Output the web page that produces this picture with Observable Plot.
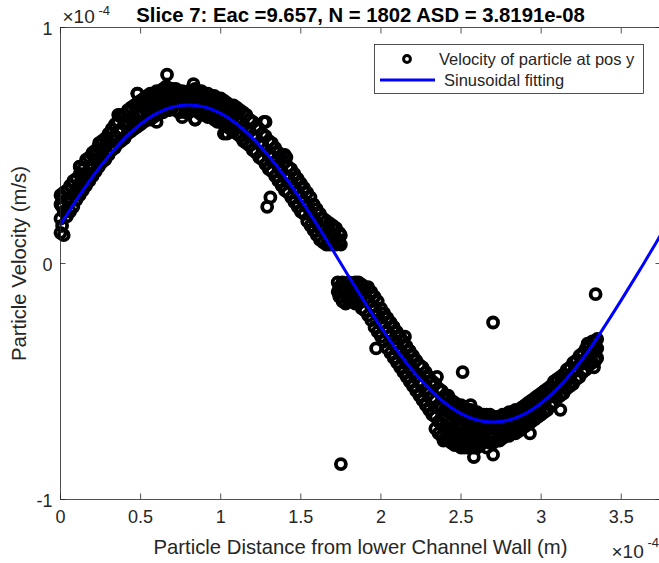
<!DOCTYPE html>
<html>
<head>
<meta charset="utf-8">
<script src="https://cdn.jsdelivr.net/npm/d3@7"></script>
<script src="https://cdn.jsdelivr.net/npm/@observablehq/plot@0.6"></script>
<style>
  html, body { margin: 0; padding: 0; background: #fff; overflow: hidden; }
  #chart svg { display: block; overflow: hidden; }
</style>
</head>
<body>
<div id="chart"></div>
<script>
// ---- Text ----
const titleText = "Slice 7: Eac =9.657, N = 1802 ASD = 3.8191e-08";
const xLabel = "Particle Distance from lower Channel Wall (m)";
const yLabel = "Particle Velocity (m/s)";
const legendLabels = ["Velocity of particle at pos y", "Sinusoidal fitting"];
const exponentBase = "\u00d710";
const exponentPower = "-4";

// ---- Ticks (values in units of 1e-4) ----
const xTicks = [0, 0.5, 1, 1.5, 2, 2.5, 3, 3.5];
const xTickLabels = ["0", "0.5", "1", "1.5", "2", "2.5", "3", "3.5"];
const yTicks = [-1, 0, 1];
const yTickLabels = ["-1", "0", "1"];

// ---- Sinusoidal fit (units of 1e-4) ----
const fitX = [0, 0.1, 0.2, 0.3, 0.4, 0.5, 0.6, 0.7, 0.8, 0.9, 1.0, 1.1, 1.2, 1.3, 1.4, 1.5, 1.6, 1.7, 1.8, 1.9,
              2.0, 2.1, 2.2, 2.3, 2.4, 2.5, 2.6, 2.7, 2.8, 2.9, 3.0, 3.1, 3.2, 3.3, 3.4, 3.5, 3.6, 3.7, 3.745];
const fitY = [0.165, 0.270, 0.368, 0.455, 0.530, 0.591, 0.636, 0.663, 0.672, 0.663, 0.636, 0.591, 0.530, 0.455, 0.368, 0.270, 0.165, 0.056, -0.056, -0.165,
              -0.270, -0.368, -0.455, -0.530, -0.591, -0.636, -0.663, -0.672, -0.663, -0.636, -0.591, -0.530, -0.455, -0.365, -0.262, -0.155, -0.045, 0.068, 0.120];

// ---- Particle velocities: rows of [x, y, y, ...] (units of 1e-4) ----
const upperBranch = [
  [0.00, 0.13, 0.19, 0.25, 0.29],
  [0.02, 0.12, 0.22, 0.30],
  [0.04, 0.20, 0.27, 0.31],
  [0.08, 0.24, 0.29, 0.35],
  [0.12, 0.29, 0.34, 0.38, 0.41],
  [0.16, 0.33, 0.37, 0.44],
  [0.20, 0.37, 0.42, 0.46, 0.47],
  [0.24, 0.41, 0.45, 0.51],
  [0.28, 0.44, 0.50, 0.53],
  [0.32, 0.48, 0.53, 0.57],
  [0.36, 0.51, 0.56, 0.60, 0.63],
  [0.40, 0.53, 0.59, 0.63],
  [0.44, 0.56, 0.61, 0.66],
  [0.48, 0.58, 0.63, 0.68, 0.72],
  [0.52, 0.60, 0.66, 0.70],
  [0.56, 0.61, 0.67, 0.72],
  [0.60, 0.60, 0.63, 0.69, 0.73],
  [0.64, 0.64, 0.70, 0.74],
  [0.68, 0.65, 0.71, 0.74],
  [0.72, 0.65, 0.69, 0.74],
  [0.76, 0.62, 0.68, 0.73],
  [0.80, 0.64, 0.69, 0.73],
  [0.84, 0.61, 0.65, 0.70, 0.74],
  [0.88, 0.63, 0.68, 0.73],
  [0.92, 0.62, 0.67, 0.72],
  [0.96, 0.61, 0.66, 0.71],
  [1.00, 0.60, 0.65, 0.70],
  [1.04, 0.55, 0.58, 0.63, 0.68],
  [1.08, 0.56, 0.62, 0.67],
  [1.12, 0.54, 0.60, 0.65],
  [1.16, 0.51, 0.57, 0.63],
  [1.20, 0.48, 0.54, 0.60],
  [1.24, 0.45, 0.51, 0.57],
  [1.28, 0.42, 0.48, 0.54, 0.60],
  [1.32, 0.39, 0.45, 0.51],
  [1.36, 0.35, 0.41, 0.47],
  [1.40, 0.31, 0.37, 0.43, 0.46],
  [1.44, 0.28, 0.34, 0.40],
  [1.48, 0.24, 0.30, 0.36],
  [1.52, 0.21, 0.26, 0.32],
  [1.56, 0.16, 0.22, 0.28],
  [1.60, 0.12, 0.17, 0.23],
  [1.64, 0.09, 0.14, 0.19],
  [1.68, 0.08, 0.12, 0.17],
  [1.72, 0.08, 0.11, 0.15],
  [1.75, 0.08, 0.12]
];
const upperBranchB = [
  [0.01, 0.16, 0.24, 0.28],
  [0.06, 0.22, 0.28, 0.33],
  [0.10, 0.27, 0.31, 0.36],
  [0.14, 0.31, 0.36, 0.40],
  [0.18, 0.35, 0.40, 0.45],
  [0.22, 0.39, 0.44, 0.48],
  [0.26, 0.43, 0.47, 0.52],
  [0.30, 0.46, 0.51, 0.55],
  [0.34, 0.49, 0.54, 0.59],
  [0.38, 0.52, 0.57, 0.62],
  [0.42, 0.55, 0.60, 0.65],
  [0.46, 0.57, 0.62, 0.67],
  [0.50, 0.59, 0.64, 0.69],
  [0.54, 0.61, 0.66, 0.71],
  [0.58, 0.62, 0.68, 0.72],
  [0.62, 0.64, 0.69, 0.73],
  [0.66, 0.65, 0.70, 0.75],
  [0.70, 0.66, 0.70, 0.74],
  [0.74, 0.64, 0.69, 0.73],
  [0.78, 0.64, 0.68, 0.72],
  [0.82, 0.65, 0.70, 0.73],
  [0.86, 0.64, 0.69, 0.73],
  [0.90, 0.63, 0.68, 0.72],
  [0.94, 0.62, 0.67, 0.71],
  [0.98, 0.60, 0.65, 0.70],
  [1.02, 0.59, 0.64, 0.69],
  [1.06, 0.57, 0.62, 0.67],
  [1.10, 0.55, 0.61, 0.66],
  [1.14, 0.52, 0.58, 0.64],
  [1.18, 0.50, 0.56, 0.61],
  [1.22, 0.47, 0.53, 0.58],
  [1.26, 0.44, 0.50, 0.55],
  [1.30, 0.40, 0.46, 0.52],
  [1.34, 0.37, 0.43, 0.49],
  [1.38, 0.33, 0.39, 0.45],
  [1.42, 0.30, 0.36, 0.41],
  [1.46, 0.26, 0.32, 0.38],
  [1.50, 0.22, 0.28, 0.34],
  [1.54, 0.18, 0.24, 0.30],
  [1.58, 0.14, 0.19, 0.25],
  [1.62, 0.10, 0.15, 0.21],
  [1.66, 0.08, 0.13, 0.18],
  [1.70, 0.08, 0.12, 0.16],
  [1.74, 0.09, 0.13]
];
const upperExtras = [
  [0.12, 0.41], [0.21, 0.47], [0.37, 0.63], [0.48, 0.72], [0.83, 0.76],
  [0.84, 0.61], [1.02, 0.55], [1.27, 0.60], [1.41, 0.45], [1.29, 0.24], [1.31, 0.28]
];
const lowerBranch = [
  [1.73, -0.08, -0.12],
  [1.76, -0.08, -0.12, -0.16],
  [1.80, -0.08, -0.12, -0.16],
  [1.84, -0.08, -0.12, -0.17],
  [1.88, -0.09, -0.14, -0.19],
  [1.92, -0.10, -0.16, -0.22],
  [1.96, -0.14, -0.20, -0.27],
  [2.00, -0.19, -0.25, -0.31],
  [2.04, -0.23, -0.29, -0.36],
  [2.08, -0.27, -0.34, -0.40],
  [2.12, -0.31, -0.38, -0.44],
  [2.16, -0.35, -0.42, -0.48],
  [2.20, -0.39, -0.46, -0.52],
  [2.24, -0.43, -0.50, -0.56],
  [2.28, -0.46, -0.53, -0.60],
  [2.32, -0.50, -0.57, -0.64],
  [2.36, -0.53, -0.60, -0.67, -0.72],
  [2.40, -0.56, -0.62, -0.69, -0.74],
  [2.44, -0.58, -0.64, -0.70, -0.76],
  [2.48, -0.60, -0.66, -0.72, -0.77],
  [2.52, -0.61, -0.67, -0.73, -0.78],
  [2.56, -0.62, -0.68, -0.74, -0.77],
  [2.60, -0.63, -0.69, -0.75, -0.78],
  [2.64, -0.64, -0.70, -0.75],
  [2.68, -0.65, -0.70, -0.76],
  [2.72, -0.65, -0.70, -0.75],
  [2.76, -0.64, -0.69, -0.74],
  [2.80, -0.63, -0.68, -0.73],
  [2.84, -0.62, -0.67, -0.72],
  [2.88, -0.61, -0.66, -0.70],
  [2.92, -0.59, -0.64, -0.68],
  [2.96, -0.57, -0.62, -0.66],
  [3.00, -0.55, -0.60, -0.64],
  [3.04, -0.53, -0.57, -0.62],
  [3.08, -0.50, -0.55, -0.59],
  [3.12, -0.48, -0.52, -0.56],
  [3.16, -0.45, -0.49, -0.53],
  [3.20, -0.42, -0.46, -0.51],
  [3.24, -0.39, -0.43, -0.48],
  [3.28, -0.36, -0.40, -0.45],
  [3.32, -0.33, -0.37, -0.42],
  [3.35, -0.32, -0.36, -0.40]
];
const lowerBranchB = [
  [1.74, -0.10, -0.14],
  [1.78, -0.09, -0.13, -0.17],
  [1.82, -0.09, -0.13, -0.16],
  [1.86, -0.08, -0.12, -0.17],
  [1.90, -0.10, -0.15, -0.20],
  [1.94, -0.12, -0.18, -0.24],
  [1.98, -0.16, -0.22, -0.29],
  [2.02, -0.21, -0.27, -0.33],
  [2.06, -0.25, -0.31, -0.38],
  [2.10, -0.29, -0.36, -0.42],
  [2.14, -0.33, -0.40, -0.46],
  [2.18, -0.37, -0.44, -0.50],
  [2.22, -0.41, -0.48, -0.54],
  [2.26, -0.44, -0.51, -0.58],
  [2.30, -0.48, -0.55, -0.62],
  [2.34, -0.51, -0.58, -0.65, -0.70],
  [2.38, -0.54, -0.61, -0.68, -0.73],
  [2.42, -0.57, -0.63, -0.70, -0.75],
  [2.46, -0.59, -0.65, -0.71, -0.77],
  [2.50, -0.60, -0.66, -0.72, -0.78],
  [2.54, -0.62, -0.68, -0.73, -0.78],
  [2.58, -0.63, -0.69, -0.74, -0.78],
  [2.62, -0.64, -0.69, -0.74, -0.77],
  [2.66, -0.64, -0.70, -0.75, -0.78],
  [2.70, -0.65, -0.70, -0.76],
  [2.74, -0.65, -0.70, -0.75],
  [2.78, -0.64, -0.68, -0.73],
  [2.82, -0.63, -0.67, -0.72],
  [2.86, -0.62, -0.66, -0.71],
  [2.90, -0.60, -0.65, -0.69],
  [2.94, -0.58, -0.63, -0.67],
  [2.98, -0.56, -0.61, -0.65],
  [3.02, -0.54, -0.58, -0.63],
  [3.06, -0.52, -0.56, -0.60],
  [3.10, -0.49, -0.53, -0.57],
  [3.14, -0.47, -0.51, -0.55],
  [3.18, -0.44, -0.48, -0.52],
  [3.22, -0.41, -0.45, -0.49],
  [3.26, -0.38, -0.42, -0.46],
  [3.30, -0.35, -0.39, -0.43],
  [3.34, -0.33, -0.37, -0.41]
];
const lowerExtras = [
  [2.08, -0.27], [2.15, -0.31], [1.97, -0.36], [2.35, -0.48], [2.42, -0.56],
  [2.39, -0.75], [2.58, -0.82], [2.70, -0.81], [2.68, -0.64], [2.93, -0.72],
  [3.12, -0.62], [3.33, -0.44], [3.31, -0.37], [3.29, -0.34], [2.56, -0.60]
];
const outliers = [[0.665, 0.80], [1.75, -0.85], [2.51, -0.46], [2.70, -0.25], [3.34, -0.13]];

// ---- Build tables ----
const fromRows = rows => rows.flatMap(([x, ...ys]) => ys.map(y => ({x, y})));
const fromPairs = pairs => pairs.map(([x, y]) => ({x, y}));
const particles = [
  ...fromRows(upperBranch), ...fromRows(upperBranchB), ...fromPairs(upperExtras),
  ...fromRows(lowerBranch), ...fromRows(lowerBranchB), ...fromPairs(lowerExtras),
  ...fromPairs(outliers)
];
const fit = fitX.map((x, i) => ({x, y: fitY[i]}));

const font = "'Liberation Sans', Arial, Helvetica, sans-serif";
const axisColor = "#262626";

const chart = Plot.plot({
  width: 659,
  height: 563,
  marginTop: 27,
  marginBottom: 64,
  marginLeft: 60,
  marginRight: -1,
  style: {fontFamily: font, background: "#fff", color: axisColor},
  x: {domain: [0, 3.745]},
  y: {domain: [-1, 1]},
  marks: [
    Plot.dot(particles, {x: "x", y: "y", r: 5, stroke: "#000", strokeWidth: 3.8, fill: "none"}),
    Plot.line(fit, {x: "x", y: "y", stroke: "#0000ff", strokeWidth: 3, curve: "catmull-rom"}),
    Plot.frame({stroke: axisColor, strokeWidth: 0.8}),
    // inward ticks
    Plot.axisX(xTicks, {anchor: "bottom", tickSize: -5.5, tickFormat: () => "", label: null, stroke: axisColor, strokeWidth: 0.8}),
    Plot.axisX(xTicks, {anchor: "top", tickSize: -5.5, tickFormat: () => "", label: null, stroke: axisColor, strokeWidth: 0.8}),
    Plot.axisY(yTicks, {anchor: "left", tickSize: -5.5, tickFormat: () => "", label: null, stroke: axisColor, strokeWidth: 0.8}),
    Plot.axisY(yTicks, {anchor: "right", tickSize: -5.5, tickFormat: () => "", label: null, stroke: axisColor, strokeWidth: 0.8}),
    // tick labels
    Plot.axisX(xTicks, {anchor: "bottom", tickSize: 0, tickPadding: 11, tickFormat: (d, i) => xTickLabels[i], label: null, fill: axisColor, fontSize: 18}),
    Plot.axisY(yTicks, {anchor: "left", tickSize: 0, tickPadding: 8, dy: 2, tickFormat: (d, i) => yTickLabels[i], label: null, fill: axisColor, fontSize: 18}),
    // title & labels
    Plot.text([titleText], {frameAnchor: "top", text: d => d, textAnchor: "middle", lineAnchor: "bottom", dy: -6, fontSize: 20.3, fontWeight: "bold", fill: "#000"}),
    Plot.text([xLabel], {frameAnchor: "bottom", text: d => d, textAnchor: "middle", lineAnchor: "bottom", dy: 54, fontSize: 20.3, fill: axisColor}),
    Plot.text([yLabel], {frameAnchor: "left", text: d => d, textAnchor: "middle", lineAnchor: "bottom", rotate: -90, dx: -35, fontSize: 20.3, fill: axisColor}),
    // exponent annotations
    Plot.text([exponentBase], {frameAnchor: "top-left", text: d => d, textAnchor: "start", lineAnchor: "bottom", dx: 2, dy: -5, fontSize: 19, fill: axisColor}),
    Plot.text([exponentPower], {frameAnchor: "top-left", text: d => d, textAnchor: "start", lineAnchor: "bottom", dx: 38, dy: -13, fontSize: 13, fill: axisColor}),
    Plot.text([exponentBase], {frameAnchor: "bottom-right", text: d => d, textAnchor: "start", lineAnchor: "bottom", dx: -49, dy: 58, fontSize: 19, fill: axisColor}),
    Plot.text([exponentPower], {frameAnchor: "bottom-right", text: d => d, textAnchor: "start", lineAnchor: "bottom", dx: -13, dy: 47, fontSize: 13, fill: axisColor})
  ]
});

// ---- Legend (drawn inside the SVG) ----
const svg = d3.select(chart);
const lg = svg.append("g").attr("font-family", font).attr("font-size", 16.5)
  .attr("fill", axisColor).attr("text-anchor", "start");
lg.append("rect").attr("x", 374.5).attr("y", 44.5).attr("width", 269).attr("height", 49)
  .attr("fill", "#fff").attr("stroke", axisColor).attr("stroke-width", 0.8);
lg.append("circle").attr("cx", 407).attr("cy", 59).attr("r", 3.4)
  .attr("fill", "none").attr("stroke", "#000").attr("stroke-width", 3);
lg.append("line").attr("x1", 380).attr("x2", 435).attr("y1", 80).attr("y2", 80)
  .attr("stroke", "#0000ff").attr("stroke-width", 3);
lg.append("text").attr("x", 439).attr("y", 65).text(legendLabels[0]);
lg.append("text").attr("x", 444).attr("y", 86).text(legendLabels[1]);

document.getElementById("chart").append(chart);
</script>
</body>
</html>
